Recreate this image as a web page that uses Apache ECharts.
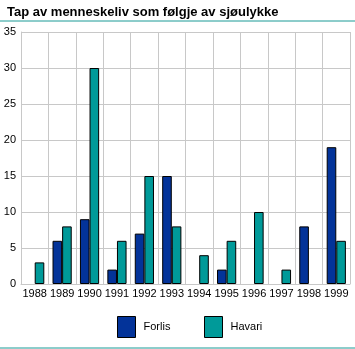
<!DOCTYPE html>
<html>
<head>
<meta charset="utf-8">
<script src="https://cdn.jsdelivr.net/npm/echarts@6/dist/echarts.min.js"></script>
<style>
  html, body { margin: 0; padding: 0; background: #ffffff; }
  #chart { width: 355px; height: 349px; }
</style>
</head>
<body>
<div id="chart"></div>
<script>
// Lives lost at sea, by year and type of accident
const years = ['1988', '1989', '1990', '1991', '1992', '1993', '1994', '1995', '1996', '1997', '1998', '1999'];
const forlis = [0, 6, 9, 2, 7, 15, 0, 2, 0, 0, 8, 19];
const havari = [3, 8, 30, 6, 15, 8, 4, 6, 10, 2, 0, 6];
const yTicks = [0, 5, 10, 15, 20, 25, 30, 35];

const FONT = '"Liberation Sans", Arial, sans-serif';
const BLUE = '#033399';
const TEAL = '#009a99';
const TEAL_LINE = '#1a9a96';

// zero-valued bars get no outline so they leave no mark on the baseline
function barData(values) {
  return values.map(v => (v === 0 ? { value: v, itemStyle: { borderWidth: 0 } } : v));
}

const legendBase = {
  top: 316,
  padding: 0,
  icon: 'rect',
  itemWidth: 18,
  itemHeight: 21,
  itemGap: 8,
  itemStyle: { borderColor: '#000', borderWidth: 1 },
  textStyle: { fontFamily: FONT, fontSize: 11, color: '#000', padding: [0, 0, 0, 3] }
};

const chart = echarts.init(document.getElementById('chart'));

chart.setOption({
  animation: false,
  textStyle: { fontFamily: FONT },
  title: {
    text: 'Tap av menneskeliv som følgje av sjøulykke',
    left: 2,
    top: 1,
    textStyle: { fontFamily: FONT, fontSize: 13, fontWeight: 'bold', color: '#000' }
  },
  graphic: [
    { type: 'line', shape: { x1: 0, y1: 21, x2: 355, y2: 21 }, style: { stroke: TEAL_LINE, lineWidth: 1 } },
    { type: 'line', shape: { x1: 0, y1: 348, x2: 355, y2: 348 }, style: { stroke: TEAL_LINE, lineWidth: 1 } }
  ],
  legend: [
    Object.assign({ data: ['Forlis'], left: 117 }, legendBase),
    Object.assign({ data: ['Havari'], left: 204 }, legendBase)
  ],
  grid: { left: 21, right: 5, top: 32, bottom: 65, containLabel: false },
  xAxis: {
    type: 'category',
    data: years,
    boundaryGap: true,
    axisLine: { show: true, lineStyle: { color: '#c8c8c8' } },
    axisTick: { show: false },
    splitLine: { show: true, lineStyle: { color: '#c8c8c8', width: 1 } },
    axisLabel: { color: '#000', fontSize: 11, fontFamily: FONT, margin: 4, interval: 0 }
  },
  yAxis: {
    type: 'value',
    min: yTicks[0],
    max: yTicks[yTicks.length - 1],
    interval: 5,
    axisLine: { show: true, lineStyle: { color: '#c8c8c8' } },
    axisTick: { show: false },
    splitLine: { show: true, lineStyle: { color: '#c8c8c8', width: 1 } },
    axisLabel: { color: '#000', fontSize: 11, fontFamily: FONT, margin: 5 }
  },
  series: [
    {
      name: 'Forlis',
      type: 'bar',
      data: barData(forlis),
      barGap: '0%',
      barCategoryGap: '30%',
      itemStyle: { color: BLUE, borderColor: '#000', borderWidth: 1 }
    },
    {
      name: 'Havari',
      type: 'bar',
      data: barData(havari),
      barGap: '0%',
      barCategoryGap: '30%',
      itemStyle: { color: TEAL, borderColor: '#000', borderWidth: 1 }
    }
  ]
});
</script>
</body>
</html>
